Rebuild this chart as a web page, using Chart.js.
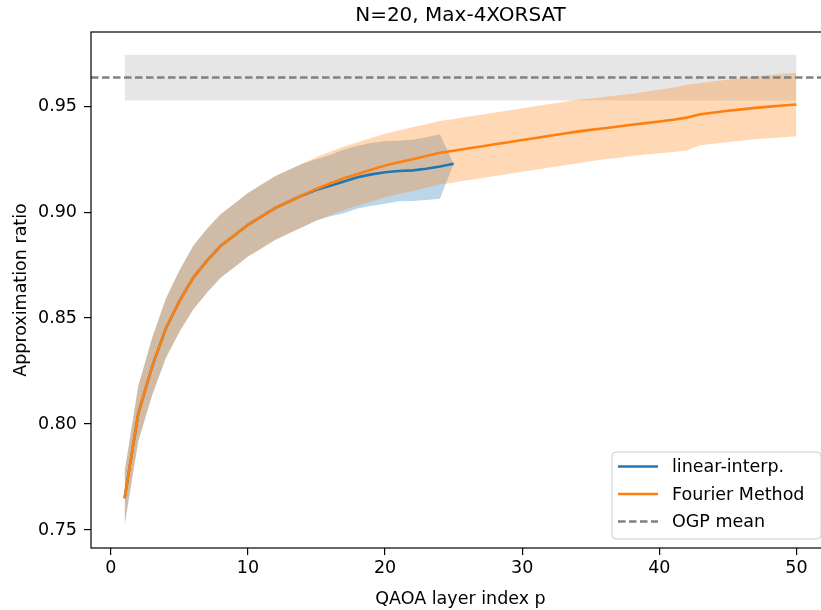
<!DOCTYPE html>
<html>
<head>
<meta charset="utf-8">
<script src="https://cdn.jsdelivr.net/npm/chart.js"></script>
<style>
  html, body { margin: 0; padding: 0; background: #fff; overflow: hidden; }
  #wrap { width: 821px; height: 610px; overflow: hidden; }
</style>
</head>
<body>
<div id="wrap"><canvas id="chart" width="840" height="610"></canvas></div>
<script>
// QAOA layer index p
const layers = [1, 2, 3, 4, 5, 6, 7, 8, 9, 10, 11, 12, 13, 14, 15, 16, 17, 18, 19, 20,
  21, 22, 23, 24, 25, 26, 27, 28, 29, 30, 31, 32, 33, 34, 35, 36, 37, 38, 39, 40,
  41, 42, 43, 44, 45, 46, 47, 48, 49, 50];

// Fourier method, mean and spread (p = 1..50)
const fourierMean = [0.765, 0.805, 0.827, 0.845, 0.858, 0.869, 0.877, 0.884, 0.889, 0.894,
  0.898, 0.902, 0.905, 0.908, 0.911, 0.9135, 0.916, 0.918, 0.920, 0.922,
  0.9235, 0.925, 0.9265, 0.928, 0.929, 0.930, 0.931, 0.932, 0.933, 0.934,
  0.935, 0.936, 0.937, 0.938, 0.9388, 0.9396, 0.9404, 0.9412, 0.942, 0.9428,
  0.9436, 0.9446, 0.9462, 0.947, 0.9478, 0.9485, 0.9492, 0.9498, 0.9503, 0.9508];
const fourierStd = [0.0125, 0.013, 0.0135, 0.014, 0.0145, 0.015, 0.015, 0.015, 0.015, 0.015,
  0.015, 0.015, 0.015, 0.015, 0.015, 0.015, 0.015, 0.015, 0.015, 0.015,
  0.015, 0.015, 0.015, 0.015, 0.015, 0.015, 0.015, 0.015, 0.015, 0.015,
  0.015, 0.015, 0.015, 0.015, 0.0148, 0.0147, 0.0147, 0.0147, 0.0148, 0.015,
  0.0152, 0.0155, 0.0147, 0.0147, 0.0147, 0.0148, 0.0148, 0.0149, 0.015, 0.015];

// linear-interp., mean and spread (p = 1..25)
const linearMean = [0.765, 0.805, 0.827, 0.845, 0.858, 0.869, 0.877, 0.884, 0.889, 0.894,
  0.898, 0.902, 0.905, 0.908, 0.9105, 0.9125, 0.9145, 0.9165, 0.9178, 0.9188,
  0.9194, 0.9197, 0.9205, 0.9215, 0.9228];
const linearStd = [0.0125, 0.013, 0.0135, 0.014, 0.0145, 0.015, 0.015, 0.015, 0.015, 0.015,
  0.015, 0.015, 0.015, 0.015, 0.0145, 0.0145, 0.015, 0.0148, 0.0148, 0.0148,
  0.0143, 0.0145, 0.0148, 0.0152, 0];

// OGP mean and its spread
const ogpMean = 0.9635;
const ogpStd = 0.0108;

const xTicks = [0, 10, 20, 30, 40, 50];
const yTicks = [0.75, 0.80, 0.85, 0.90, 0.95];

const FONT = "'DejaVu Sans', 'Noto Sans', sans-serif";
const BLUE = '#1f77b4';
const ORANGE = '#ff7f0e';

function points(xs, ys) {
  return ys.map((y, i) => ({ x: xs[i], y: y }));
}
function shifted(xs, ys, sd, sign) {
  return ys.map((y, i) => ({ x: xs[i], y: y + sign * sd[i] }));
}

const xMin = -1.45, xMax = 52.45;
const ogpX = [layers[0], layers[layers.length - 1]];

const band = {
  type: 'line', borderWidth: 0, borderColor: 'transparent',
  pointRadius: 0, tension: 0
};

// lower order is drawn on top
const datasets = [
  { ...band, label: 'OGP mean', order: 0, data: [{ x: xMin, y: ogpMean }, { x: xMax, y: ogpMean }],
    borderColor: '#808080', borderWidth: 2.4, borderDash: [7.5, 3.5], fill: false },
  { ...band, label: 'Fourier Method', order: 1, data: points(layers, fourierMean),
    borderColor: ORANGE, borderWidth: 2.6, fill: false },
  { ...band, label: 'linear-interp.', order: 2, data: points(layers, linearMean),
    borderColor: BLUE, borderWidth: 2.6, fill: false },
  { ...band, label: 'f-upper', order: 3, data: shifted(layers, fourierMean, fourierStd, 1),
    fill: '+1', backgroundColor: 'rgba(255,127,14,0.3)' },
  { ...band, label: 'f-lower', order: 4, data: shifted(layers, fourierMean, fourierStd, -1), fill: false },
  { ...band, label: 'l-upper', order: 5, data: shifted(layers, linearMean, linearStd, 1),
    fill: '+1', backgroundColor: 'rgba(31,119,180,0.3)' },
  { ...band, label: 'l-lower', order: 6, data: shifted(layers, linearMean, linearStd, -1), fill: false },
  { ...band, label: 'ogp-upper', order: 7, data: ogpX.map(x => ({ x: x, y: ogpMean + ogpStd })),
    fill: '+1', backgroundColor: 'rgba(128,128,128,0.2)' },
  { ...band, label: 'ogp-lower', order: 8, data: ogpX.map(x => ({ x: x, y: ogpMean - ogpStd })), fill: false }
];

const legendItems = [
  { text: 'linear-interp.', color: BLUE, dash: [] },
  { text: 'Fourier Method', color: ORANGE, dash: [] },
  { text: 'OGP mean', color: '#808080', dash: [7.5, 3.5] }
];

// frame, title and legend drawn like matplotlib
const decorations = {
  id: 'decorations',
  afterDraw(chart) {
    const ctx = chart.ctx;
    const a = chart.chartArea;
    ctx.save();
    ctx.strokeStyle = '#000';
    ctx.lineWidth = 1.2;
    ctx.strokeRect(a.left, a.top, a.right - a.left, a.bottom - a.top);

    ctx.fillStyle = '#000';
    ctx.font = '20px ' + FONT;
    ctx.textAlign = 'center';
    ctx.textBaseline = 'alphabetic';
    ctx.fillText('N=20, Max-4XORSAT', (a.left + a.right) / 2, 21);

    const w = 209, h = 87;
    const x0 = a.right - 9 - w, y0 = a.bottom - 9 - h;
    ctx.beginPath();
    ctx.roundRect(x0, y0, w, h, 4);
    ctx.fillStyle = 'rgba(255,255,255,0.8)';
    ctx.fill();
    ctx.strokeStyle = '#cccccc';
    ctx.lineWidth = 1;
    ctx.stroke();

    ctx.font = '17.5px ' + FONT;
    ctx.textAlign = 'left';
    ctx.textBaseline = 'middle';
    legendItems.forEach((item, i) => {
      const y = y0 + 14.5 + i * 27.5;
      ctx.beginPath();
      ctx.setLineDash(item.dash);
      ctx.strokeStyle = item.color;
      ctx.lineWidth = 2.6;
      ctx.moveTo(x0 + 6, y);
      ctx.lineTo(x0 + 46, y);
      ctx.stroke();
      ctx.setLineDash([]);
      ctx.fillStyle = '#000';
      ctx.fillText(item.text, x0 + 60, y + 1);
    });
    ctx.restore();
  }
};

new Chart(document.getElementById('chart').getContext('2d'), {
  type: 'line',
  data: { datasets: datasets },
  options: {
    responsive: false,
    animation: false,
    layout: { padding: { top: 32, right: 10, left: 0, bottom: 0 } },
    plugins: {
      legend: { display: false },
      tooltip: { enabled: false },
      title: { display: false },
      filler: { drawTime: 'beforeDatasetsDraw' }
    },
    scales: {
      x: {
        type: 'linear',
        min: xMin,
        max: xMax,
        afterBuildTicks: (scale) => { scale.ticks = xTicks.map(v => ({ value: v })); },
        afterFit: (scale) => { scale.height = 62; },
        grid: { drawOnChartArea: false, drawTicks: true, tickLength: 7, color: '#000', lineWidth: 1.2 },
        border: { display: false },
        ticks: { color: '#000', font: { family: FONT, size: 17.5 }, padding: 3, maxRotation: 0,
          callback: (v) => String(v) },
        title: { display: true, text: 'QAOA layer index p', color: '#000',
          font: { family: FONT, size: 17.5 }, padding: { top: 4, bottom: 0 } }
      },
      y: {
        type: 'linear',
        min: 0.7415,
        max: 0.985,
        afterBuildTicks: (scale) => { scale.ticks = yTicks.map(v => ({ value: v })); },
        afterFit: (scale) => { scale.width = 91; },
        grid: { drawOnChartArea: false, drawTicks: true, tickLength: 7, color: '#000', lineWidth: 1.2 },
        border: { display: false },
        ticks: { color: '#000', font: { family: FONT, size: 17.5 }, padding: 7,
          callback: (v) => v.toFixed(2) },
        title: { display: true, text: 'Approximation ratio', color: '#000',
          font: { family: FONT, size: 17.5 }, padding: { top: 11, bottom: 0 } }
      }
    }
  },
  plugins: [decorations]
});
</script>
</body>
</html>
